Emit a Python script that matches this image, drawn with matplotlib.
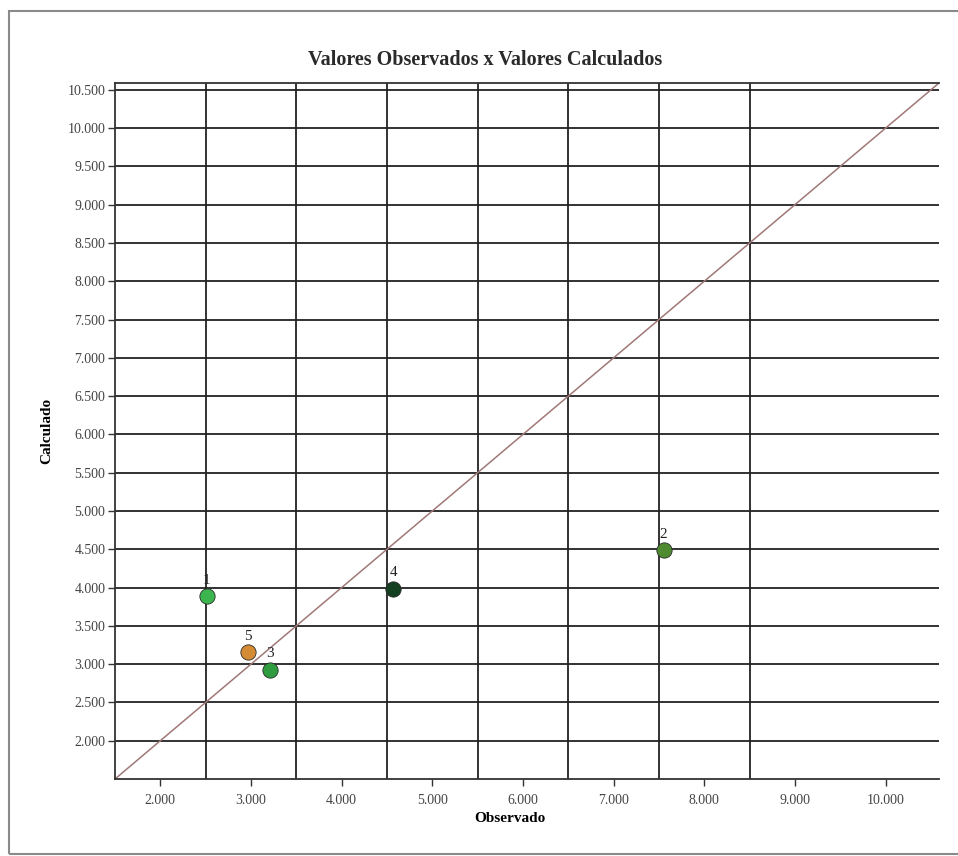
import matplotlib
matplotlib.use("Agg")
import matplotlib.pyplot as plt
import matplotlib.patches as patches
from matplotlib.ticker import FuncFormatter

# observed x calculated values, one per point
point_ids = ["1", "2", "3", "4", "5"]
observado = [2514, 7552, 3214, 4568, 2965]
calculado = [3884, 4485, 2927, 3981, 3153]
point_colors = ["#3db54e", "#4e8a30", "#2f9c40", "#143f20", "#d48c34"]

x_ticks = [2000, 3000, 4000, 5000, 6000, 7000, 8000, 9000, 10000]
y_ticks = [2000 + 500 * i for i in range(18)]
x_grid = [2500, 3500, 4500, 5500, 6500, 7500, 8500]

plt.rcParams['font.family'] = ['Liberation Serif', 'DejaVu Serif']

fig = plt.figure(figsize=(9.58, 8.56), dpi=100)
ax = fig.add_axes([115 / 958, 77 / 856, 824 / 958, 696 / 856])

# window-like border around the figure
fig.patches.append(patches.Rectangle((9 / 958, 2 / 856), 1.2, 843 / 856,
                                     transform=fig.transFigure, fill=False,
                                     edgecolor="#8a8a8a", linewidth=1.5))

lo, hi = 1500, 10590
ax.set_xlim(lo, hi)
ax.set_ylim(lo, hi)

# grid
for y in y_ticks:
    ax.axhline(y, color="#222222", linewidth=1.3, zorder=1)
for x in x_grid:
    ax.axvline(x, color="#222222", linewidth=1.3, zorder=1)

# y = x reference line
ax.plot([lo, hi], [lo, hi], color="#a07878", linewidth=1.1, zorder=2)

for i in range(len(point_ids)):
    ax.plot(observado[i], calculado[i], 'o', markersize=11,
            markerfacecolor=point_colors[i], markeredgecolor="#2a2a2a",
            markeredgewidth=0.6, zorder=3)
    ax.annotate(point_ids[i], (observado[i], calculado[i]),
                xytext=(0, 7), textcoords="offset points",
                ha="center", va="bottom", fontsize=11, color="#222222")

fmt = FuncFormatter(lambda v, p: f"{int(v):,}".replace(",", "."))
ax.set_xticks(x_ticks)
ax.set_yticks(y_ticks)
ax.xaxis.set_major_formatter(fmt)
ax.yaxis.set_major_formatter(fmt)
ax.tick_params(axis="x", pad=6)
ax.tick_params(axis="y", pad=2)
ax.tick_params(axis="both", direction="out", length=5, width=1,
               labelsize=10, color="#333333", labelcolor="#444444")

for s in ["left", "bottom", "top"]:
    ax.spines[s].set_linewidth(1.3)
    ax.spines[s].set_color("#333333")
ax.spines["right"].set_visible(False)

fig.text(485 / 958, 1 - 60 / 856, "Valores Observados x Valores Calculados",
         fontsize=14.5, fontweight="bold", color="#2a2a2a",
         ha="center", va="center")
fig.text(510 / 958, 1 - 818 / 856, "Observado", fontsize=11,
         fontweight="bold", ha="center", va="center")
ax.set_ylabel("Calculado", fontsize=11, fontweight="bold", labelpad=10)

fig.savefig("out.png", dpi=100)
